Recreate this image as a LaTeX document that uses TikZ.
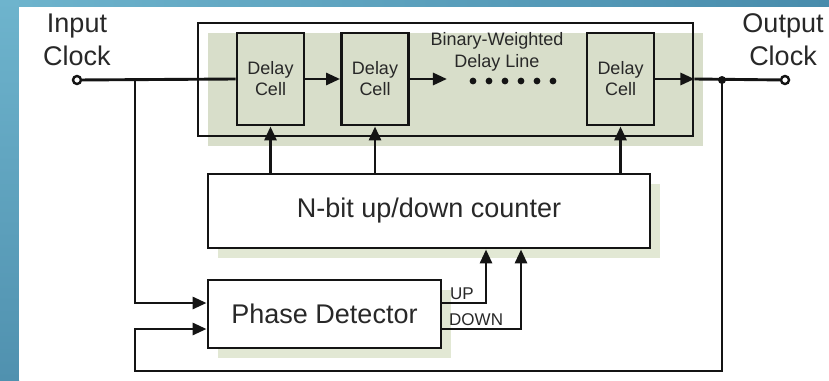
\documentclass[tikz,border=0pt]{standalone}
\usepackage{fontspec}
\setmainfont{Liberation Sans}
\usetikzlibrary{arrows.meta,shadows}

\definecolor{slidetop}{RGB}{110,180,205}
\definecolor{slidelow}{RGB}{80,145,175}
\definecolor{slideright}{RGB}{72,140,172}
\definecolor{khaki}{RGB}{216,222,202}
\definecolor{paleshade}{RGB}{226,232,212}
\definecolor{ink}{RGB}{20,20,20}
\definecolor{txt}{RGB}{40,40,40}

\tikzset{
  wire/.style={draw=ink, line width=2.9pt},
  sig/.style={wire, -{Triangle[length=14pt,width=12pt]}},
  cellbox/.style={draw=ink, line width=2.9pt, minimum width=67pt, minimum height=92pt,
    inner sep=0pt, align=center, text=txt, font=\fontsize{18}{21}\selectfont},
  blockbox/.style={draw=ink, fill=white, line width=2.9pt, inner sep=0pt, text=txt,
    font=\fontsize{27}{30}\selectfont,
    drop shadow={shadow xshift=10pt, shadow yshift=-10pt, fill=paleshade, opacity=1}},
  pin/.style={circle, draw=ink, fill=white, line width=2.4pt, inner sep=0pt, minimum size=8pt},
  biglabel/.style={align=center, text=txt, inner sep=0pt, font=\fontsize{27}{33}\selectfont},
  smalllabel/.style={text=txt, inner sep=0pt, font=\fontsize{17}{20}\selectfont}
}

\begin{document}
\begin{tikzpicture}[x=1pt, y=-1pt]
    \useasboundingbox (0,0) rectangle (829,380);
    % slide background
    \shade[left color=slidetop, right color=slideright] (0,0) rectangle (829,8);
    \shade[top color=slidetop, bottom color=slidelow] (0,0) rectangle (19,380);
    \fill[white] (19,7) rectangle (829,380);

    % delay line
    \node[draw=ink, line width=2.9pt, minimum width=495pt, minimum height=113pt,
        drop shadow={shadow xshift=10pt, shadow yshift=-10pt, fill=khaki, opacity=1}]
        (line) at (445.5,79.5) {};
    \node[cellbox] (cell1) at (270.5,79) {Delay\\Cell};
    \node[cellbox] (cell2) at (375,79) {Delay\\Cell};
    \node[cellbox] (cell3) at (620.5,79) {Delay\\Cell};
    \node[smalllabel, align=center, font=\fontsize{18}{22}\selectfont] (title) at (497,52)
        {Binary-Weighted\\Delay Line};
    \foreach \i in {0,...,5}
        \fill[ink] (473+16*\i,81) circle (3.4pt);

    % counter and phase detector
    \node[blockbox, minimum width=442pt, minimum height=74pt] (counter) at (429,211)
        {N-bit up/down counter};
    \node[blockbox, minimum width=233pt, minimum height=68pt] (pd) at (324.5,314)
        {Phase Detector};

    % clocks
    \node[pin] (inclk) at (77,80) {};
    \node[pin] (outclk) at (785,80) {};
    \node[biglabel] (inlabel) at (77,40) {Input\\Clock};
    \node[biglabel] (outlabel) at (783,40) {Output\\Clock};
    \coordinate (split) at (135,80);
    \coordinate (tap) at (722,80);
    \coordinate (fb) at (135,371);

    % data path
    \draw[wire] (inclk) -- (cell1.west);
    \draw[sig] (cell1.east) -- (cell2.west);
    \draw[sig] (cell2.east) -- ++(37,0);
    \draw[sig] (cell3.east) -- (cell3.east -| line.east);
    \draw[wire] (line.east |- cell3.east) -- (outclk);
    \fill[ink] (tap) circle (4pt);

    % control
    \draw[sig] (counter.north -| cell1.south) -- (cell1.south);
    \draw[sig] (counter.north -| cell2.south) -- (cell2.south);
    \draw[sig] (counter.north -| cell3.south) -- (cell3.south);
    \draw[sig] (split) |- ([yshift=11pt]pd.west);
    \draw[sig] (tap) |- (fb) |- ([yshift=-15pt]pd.west);
    \draw[sig] ([yshift=11pt]pd.east) -| ([xshift=57pt]counter.south);
    \draw[sig] ([yshift=-15pt]pd.east) -| ([xshift=92pt]counter.south);
    \node[smalllabel, anchor=south west] (uplabel) at (450,300) {UP};
    \node[smalllabel, anchor=south west] (downlabel) at (449,326) {DOWN};
\end{tikzpicture}
\end{document}
